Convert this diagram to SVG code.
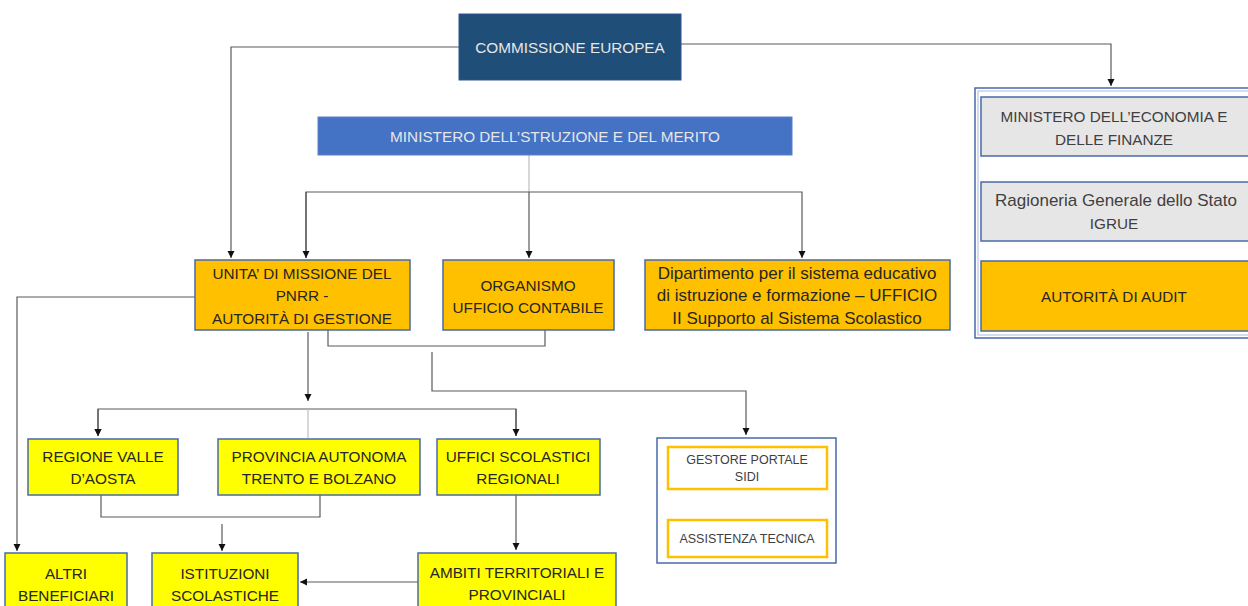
<svg xmlns="http://www.w3.org/2000/svg" width="1248" height="606" viewBox="0 0 1248 606">
<defs>
<marker id="arr" markerWidth="8" markerHeight="8" refX="7" refY="4" orient="auto" markerUnits="userSpaceOnUse">
<path d="M0,0.5 L7,4 L0,7.5 Z" fill="#111"/>
</marker>
<style>
text{font-family:"Liberation Sans",Arial,sans-serif;font-size:15.3px;text-anchor:middle;fill:#262626}
.lc{font-size:17px}
.w{fill:#e6e6e6}
.g{fill:#404040}
.s{font-size:12.5px;fill:#404040}
.dark{fill:#1F4E79;stroke:#2f5597;stroke-width:1}
.blue{fill:#4472C4;stroke:#5b7fc7;stroke-width:1}
.or{fill:#FFC000;stroke:#4a6aa8;stroke-width:1.5}
.ye{fill:#FFFF00;stroke:#4a6aa8;stroke-width:1.5}
.gr{fill:#E7E6E6;stroke:#4a6aa8;stroke-width:1.5}
.pan{fill:#fff;stroke:#4a6aa8;stroke-width:1.5}
.ob{fill:#fff;stroke:#FFC000;stroke-width:2.5}
.c{fill:none;stroke:#5a5a5a;stroke-width:1.2}
.cl{fill:none;stroke:#bdbdbd;stroke-width:1.2}
</style>
</defs>
<rect width="1248" height="606" fill="#fff"/>
<g id="connectors">
<path class="c" d="M459,47 H231 V258" marker-end="url(#arr)"/>
<path class="c" d="M681,44 H1111 V86" marker-end="url(#arr)"/>
<path class="cl" d="M529,155 V192"/>
<path class="c" d="M529,192 V258" marker-end="url(#arr)"/>
<path class="c" d="M306,258 V192 H802 V258" marker-end="url(#arr)"/>
<path class="c" d="M306,192 V258" marker-end="url(#arr)"/>
<path class="c" d="M1109,156 V178" marker-end="url(#arr)"/>
<path class="c" d="M1109,241 V259" marker-end="url(#arr)"/>
<path class="c" d="M195,297 H17 V551" marker-end="url(#arr)"/>
<path class="c" d="M308,332 V401" marker-end="url(#arr)"/>
<path class="c" d="M516,436 V409 H98 V436" marker-end="url(#arr)"/>
<path class="c" d="M98,409 V436" marker-end="url(#arr)"/>
<path class="c" d="M516,409 V436" marker-end="url(#arr)"/>
<path class="cl" d="M308,409 V438"/>
<path class="c" d="M328,330 V346 H545 V330"/>
<path class="c" d="M432,352 V391 H746 V435" marker-end="url(#arr)"/>
<path class="c" d="M101,495 V517 H320 V495"/>
<path class="c" d="M222,524 V551" marker-end="url(#arr)"/>
<path class="c" d="M516,495 V550" marker-end="url(#arr)"/>
<path class="c" d="M418,582 H300" marker-end="url(#arr)"/>
</g>
<g id="commissione">
<rect class="dark" x="459" y="14" width="222" height="66"/>
<text class="w" x="570" y="53">COMMISSIONE EUROPEA</text>
</g>
<g id="ministero-istruzione">
<rect class="blue" x="318" y="117" width="474" height="38"/>
<text class="w" x="555" y="142">MINISTERO DELL’STRUZIONE E DEL MERITO</text>
</g>
<g id="unita-missione">
<rect class="or" x="195" y="260" width="215" height="70"/>
<text x="302" y="279">UNITA’ DI MISSIONE DEL</text>
<text x="302" y="301">PNRR -</text>
<text x="302" y="324">AUTORITÀ  DI GESTIONE</text>
</g>
<g id="organismo">
<rect class="or" x="443" y="260" width="171" height="70"/>
<text x="528" y="291">ORGANISMO</text>
<text x="528" y="313">UFFICIO CONTABILE</text>
</g>
<g id="dipartimento">
<rect class="or" x="645" y="260" width="305" height="70"/>
<text class="lc" x="797" y="279">Dipartimento per il sistema educativo</text>
<text class="lc" x="797" y="301">di istruzione e formazione – UFFICIO</text>
<text class="lc" x="797" y="324">II Supporto al Sistema Scolastico</text>
</g>
<g id="pannello-mef">
<rect class="pan" x="975" y="88" width="280" height="250"/>
<rect fill="none" stroke="#a9bce0" stroke-width="1" x="978" y="91" width="280" height="244"/>
</g>
<g id="mef">
<rect class="gr" x="981" y="97" width="270" height="59"/>
<text class="g" x="1114" y="122">MINISTERO DELL’ECONOMIA E</text>
<text class="g" x="1114" y="145">DELLE FINANZE</text>
</g>
<g id="ragioneria">
<rect class="gr" x="981" y="182" width="270" height="59"/>
<text class="g lc" x="1116" y="206">Ragioneria  Generale dello Stato</text>
<text class="g" x="1114" y="229">IGRUE</text>
</g>
<g id="autorita-audit">
<rect class="or" x="981" y="261" width="270" height="70"/>
<text x="1114" y="302">AUTORITÀ  DI AUDIT</text>
</g>
<g id="regione-valle">
<rect class="ye" x="28" y="439" width="150" height="56"/>
<text x="103" y="462">REGIONE VALLE</text>
<text x="103" y="484">D’AOSTA</text>
</g>
<g id="provincia-autonoma">
<rect class="ye" x="218" y="439" width="202" height="56"/>
<text x="319" y="462">PROVINCIA AUTONOMA</text>
<text x="319" y="484">TRENTO  E BOLZANO</text>
</g>
<g id="uffici-scolastici">
<rect class="ye" x="437" y="439" width="163" height="56"/>
<text x="518" y="462">UFFICI SCOLASTICI</text>
<text x="518" y="484">REGIONALI</text>
</g>
<g id="pannello-sidi">
<rect class="pan" x="657" y="438" width="179" height="125"/>
</g>
<g id="gestore-sidi">
<rect class="ob" x="668" y="447" width="159" height="42"/>
<text class="s" x="747" y="464">GESTORE PORTALE</text>
<text class="s" x="747" y="481">SIDI</text>
</g>
<g id="assistenza-tecnica">
<rect class="ob" x="668" y="520" width="159" height="37"/>
<text class="s" x="747" y="543">ASSISTENZA TECNICA</text>
</g>
<g id="altri-beneficiari">
<rect class="ye" x="5" y="553" width="122" height="60"/>
<text x="66" y="579">ALTRI</text>
<text x="66" y="601">BENEFICIARI</text>
</g>
<g id="istituzioni-scolastiche">
<rect class="ye" x="152" y="553" width="146" height="60"/>
<text x="225" y="579">ISTITUZIONI</text>
<text x="225" y="601">SCOLASTICHE</text>
</g>
<g id="ambiti-territoriali">
<rect class="ye" x="418" y="553" width="198" height="60"/>
<text x="517" y="578">AMBITI TERRITORIALI  E</text>
<text x="517" y="600">PROVINCIALI</text>
</g>
</svg>
